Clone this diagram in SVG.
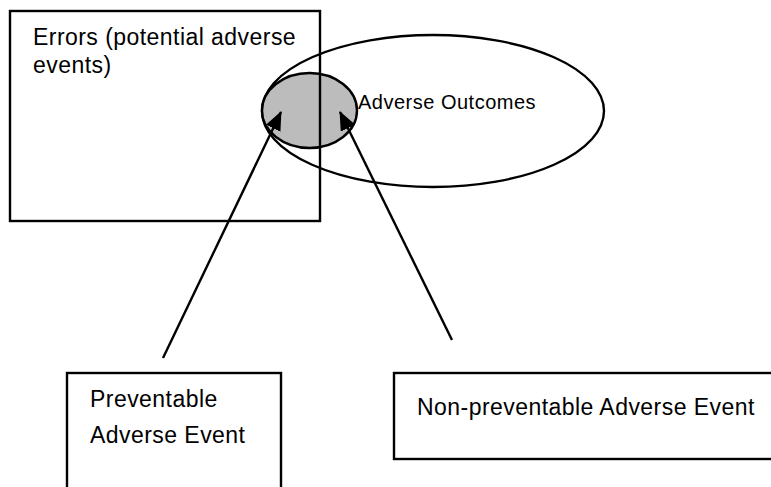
<svg xmlns="http://www.w3.org/2000/svg" width="771" height="487" viewBox="0 0 771 487">
<style>
.box{fill:none;stroke:#000;stroke-width:2.4}
.t{font-family:"Liberation Sans",Arial,sans-serif;font-size:23px;letter-spacing:0.45px;fill:#000}
.ts{font-family:"Liberation Sans",Arial,sans-serif;font-size:20px;letter-spacing:0.5px;fill:#000}
.con{stroke:#000;stroke-width:2.4;fill:none;marker-end:url(#ah)}
</style>
<defs>
<marker id="ah" viewBox="0 0 19 16" refX="18" refY="8" markerWidth="19" markerHeight="16" markerUnits="userSpaceOnUse" orient="auto">
<path d="M0,0 L19,8 L0,16 z" fill="#000"/>
</marker>
</defs>
<rect width="771" height="487" fill="#fff"/>
<g id="adverse-outcomes">
<ellipse cx="433" cy="111" rx="171" ry="76" fill="none" stroke="#000" stroke-width="2.4"/>
<text class="ts" x="358" y="109">Adverse Outcomes</text>
</g>
<g id="overlap">
<ellipse cx="309.5" cy="110.5" rx="47.5" ry="37.5" fill="#bcbcbc" stroke="#000" stroke-width="2.4"/>
</g>
<g id="errors">
<rect class="box" x="10" y="11" width="310" height="210"/>
<text class="t" x="33" y="45">Errors (potential adverse</text>
<text class="t" x="33" y="73">events)</text>
</g>
<g id="preventable">
<rect class="box" x="67" y="373" width="214" height="130"/>
<text class="t" x="90" y="407">Preventable</text>
<text class="t" x="90" y="443">Adverse Event</text>
</g>
<g id="non-preventable">
<rect class="box" x="394" y="373" width="390" height="86"/>
<text class="t" x="417" y="415">Non-preventable Adverse Event</text>
</g>
<g id="connectors">
<line class="con" x1="163" y1="358" x2="281" y2="112"/>
<line class="con" x1="452" y1="340" x2="340" y2="112"/>
</g>
</svg>
